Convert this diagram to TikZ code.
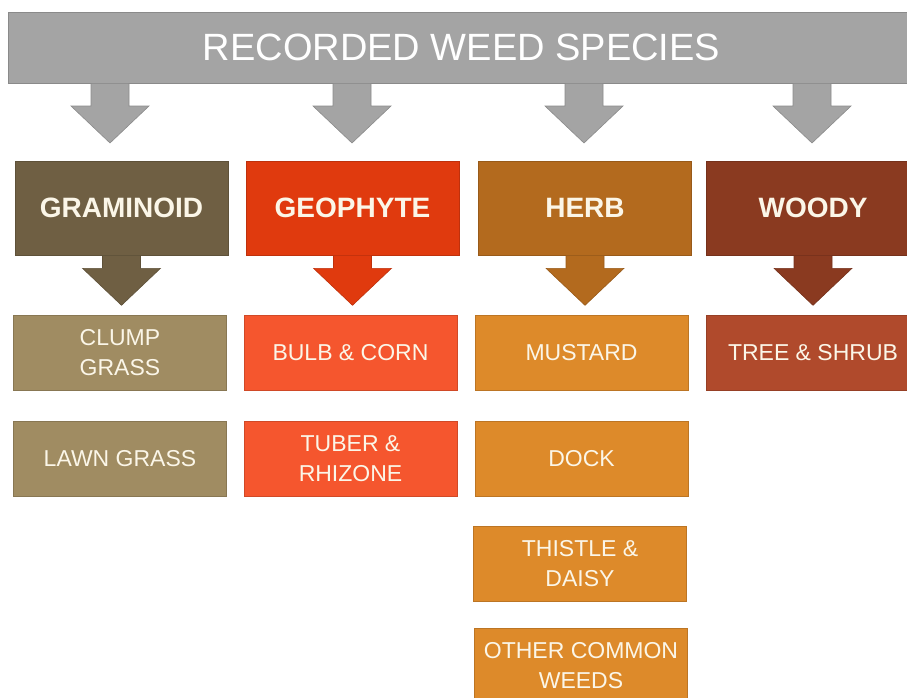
\documentclass[tikz,border=0pt]{standalone}
\usepackage{fontspec}
\setmainfont{Liberation Sans}
\usepackage{tikz}
\usetikzlibrary{calc}
\definecolor{banner}{HTML}{A4A4A4}
\definecolor{bannerline}{HTML}{8A8A8A}
\definecolor{gramhead}{HTML}{6F5F43}
\definecolor{gramsub}{HTML}{A08C62}
\definecolor{geohead}{HTML}{E03A0E}
\definecolor{geosub}{HTML}{F5562E}
\definecolor{herbhead}{HTML}{B36A1E}
\definecolor{herbsub}{HTML}{DD8A2A}
\definecolor{woodhead}{HTML}{8A3A20}
\definecolor{woodsub}{HTML}{B04A2C}
\definecolor{cream}{HTML}{FBF6E8}
\newcommand{\blockarrow}[3]{%
  \filldraw[#3] (#2) -- ++(-39,-37) -- ++(20,0) |- ($(#1)+(-19,0)$) -- ++(38,0) |- ($(#2)+(39,-37)$) -- cycle;
}

\begin{document}
\begin{tikzpicture}[x=1pt, y=-1pt,
    headbox/.style={rectangle, fill=#1, draw=#1!85!black, line width=0.6pt, minimum width=213pt, minimum height=94pt, inner sep=0pt, text=cream, font=\fontsize{28}{32}\selectfont\bfseries},
    subbox/.style={rectangle, fill=#1, draw=#1!85!black, line width=0.6pt, minimum width=213pt, minimum height=75pt, inner sep=0pt, align=center, text=cream, font=\fontsize{23}{30}\selectfont},
    arrowfill/.style={fill=#1, draw=#1!85!black, line width=0.6pt}]
    \useasboundingbox (0,0) rectangle (907,697);
    \clip (0,0) rectangle (907,697);
    % The grey banner and its four arrows.
    \node[rectangle, fill=banner, draw=bannerline, line width=0.8pt, minimum width=907pt, minimum height=71pt, inner sep=0pt, text=white, font=\fontsize{38}{40}\selectfont] (banner) at (461.5,47.5) {RECORDED WEED SPECIES};
    \foreach \n/\x in {t1/110, t2/352, t3/584, t4/812} {
      \coordinate (\n) at (\x,143);
      \blockarrow{banner.south -| \n}{\n}{arrowfill=banner}
    }
    % The four groups, each with its own arrow.
    \foreach \n/\x/\c/\t in {gram/121.5/gramhead/GRAMINOID, geo/352.5/geohead/GEOPHYTE, herb/585/herbhead/HERB, wood/813/woodhead/WOODY} {
      \node[headbox=\c] (\n) at (\x,208) {\t};
      \coordinate (\n tip) at ($(\n.south)+(0,50)$);
      \blockarrow{\n.south}{\n tip}{arrowfill=\c}
    }
    % The kinds in each group.
    \node[subbox=gramsub] (clump) at (120,352.5) {CLUMP\\GRASS};
    \node[subbox=gramsub] (lawn) at (120,458.5) {LAWN GRASS};
    \node[subbox=geosub] (bulb) at (350.5,352.5) {BULB \& CORN};
    \node[subbox=geosub] (tuber) at (350.5,458.5) {TUBER \&\\RHIZONE};
    \node[subbox=herbsub] (mustard) at (581.5,352.5) {MUSTARD};
    \node[subbox=herbsub] (dock) at (581.5,458.5) {DOCK};
    \node[subbox=herbsub] (thistle) at (580,564) {THISTLE \&\\DAISY};
    \node[subbox=herbsub] (other) at (581,666) {OTHER COMMON\\WEEDS};
    \node[subbox=woodsub] (tree) at (813,352.5) {TREE \& SHRUB};
  \end{tikzpicture}
\end{document}
